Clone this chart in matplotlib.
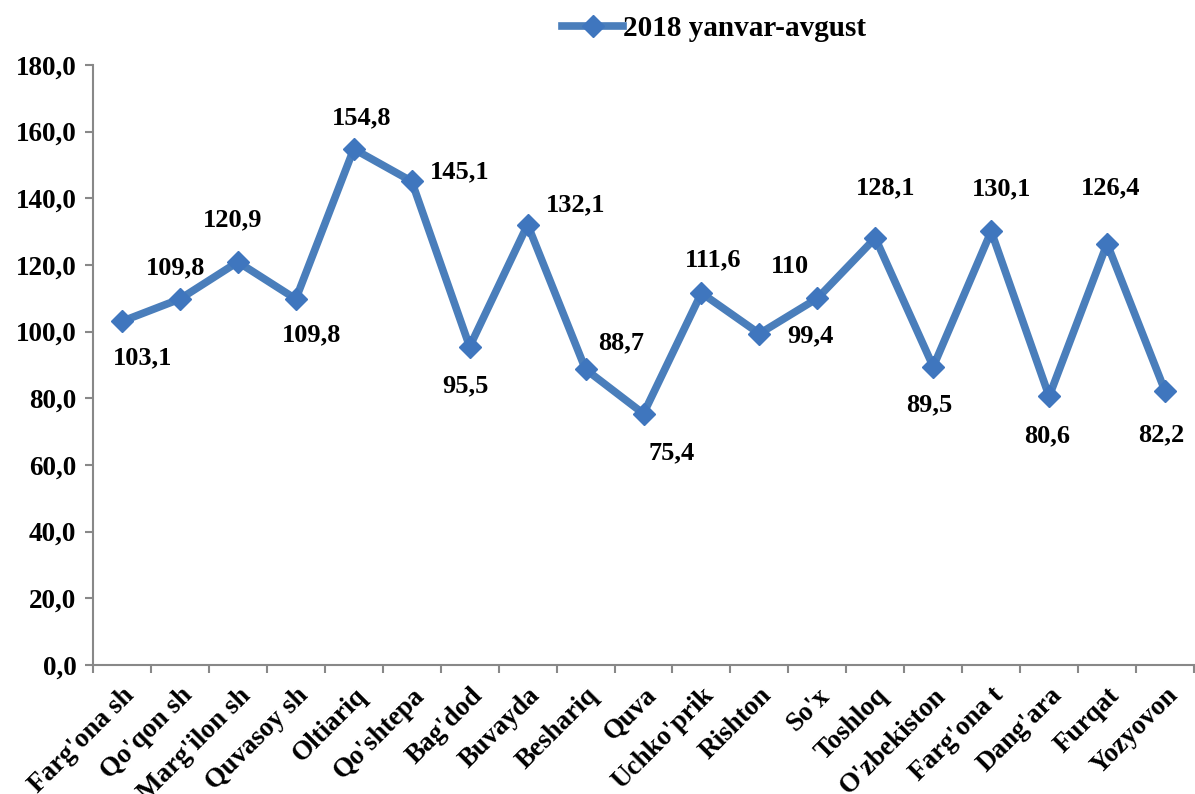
import numpy as np
import matplotlib.pyplot as plt

districts = ["Farg'ona sh", "Qo'qon sh", "Marg'ilon sh", "Quvasoy sh", "Oltiariq",
             "Qo'shtepa", "Bag'dod", "Buvayda", "Beshariq", "Quva", "Uchko'prik",
             "Rishton", "So'x", "Toshloq", "O'zbekiston", "Farg'ona t", "Dang'ara",
             "Furqat", "Yozyovon"]
values = [103.1, 109.8, 120.9, 109.8, 154.8, 145.1, 95.5, 132.1, 88.7, 75.4, 111.6,
          99.4, 110, 128.1, 89.5, 130.1, 80.6, 126.4, 82.2]
value_labels = ["103,1", "109,8", "120,9", "109,8", "154,8", "145,1", "95,5", "132,1",
                "88,7", "75,4", "111,6", "99,4", "110", "128,1", "89,5", "130,1",
                "80,6", "126,4", "82,2"]
series_name = "2018 yanvar-avgust"

# label offsets in pixels (dx, dy), dy positive = up
offsets = [(21, -36), (-4, 31), (-5, 42), (16, -36), (8, 31), (48, 10), (-4, -39),
           (48, 20), (36, 27), (28, -39), (12, 33), (51, -2), (-27, 32), (10, 50),
           (-4, -38), (10, 43), (-2, -39), (4, 56), (-4, -44)]

plt.rcParams['font.family'] = ['Liberation Serif', 'DejaVu Serif']
plt.rcParams['font.weight'] = 'bold'

fig = plt.figure(figsize=(11.95, 7.94), dpi=100)
ax = fig.add_axes([93 / 1195, 129 / 794, 1101 / 1195, 600 / 794])

x = np.arange(len(districts))
color = '#4A7EBB'
ax.plot(x, values, color=color, lw=5.5, marker='D', ms=11, mfc='#3F76BE',
        mec='#3F76BE', solid_joinstyle='miter', label=series_name)

for xi, v, lab, (dx, dy) in zip(x, values, value_labels, offsets):
    ax.annotate(lab, (xi, v), xytext=(dx * 0.72, dy * 0.72), textcoords='offset points',
                ha='center', va='center', fontsize=19, fontweight='bold')

ax.set_xlim(-0.5, len(districts) - 0.5)
ax.set_ylim(0, 180)
ax.set_yticks(np.arange(0, 181, 20))
ax.set_yticklabels([f"{t:.1f}".replace('.', ',') for t in np.arange(0, 181, 20)],
                   fontsize=19.5, fontweight='bold')
ax.set_xticks(x)
ax.set_xticklabels(districts, rotation=45, ha='right', rotation_mode='anchor',
                   fontsize=19.5, fontweight='bold')
ax.set_xticks(np.arange(-0.5, len(districts), 1), minor=True)
ax.tick_params(axis='x', which='major', length=0, pad=13)
ax.tick_params(axis='x', which='minor', length=6, color='#888888', width=1.5)
ax.tick_params(axis='y', length=6, color='#888888', width=1.5, pad=6)

for s in ['top', 'right']:
    ax.spines[s].set_visible(False)
for s in ['left', 'bottom']:
    ax.spines[s].set_color('#888888')
    ax.spines[s].set_linewidth(1.5)

leg = fig.legend(loc='center', bbox_to_anchor=(714 / 1195, 1 - 29 / 794), frameon=False,
                 prop={'size': 21, 'weight': 'bold'}, handlelength=2.1, handletextpad=0.0)

fig.savefig('out.png', dpi=100)
